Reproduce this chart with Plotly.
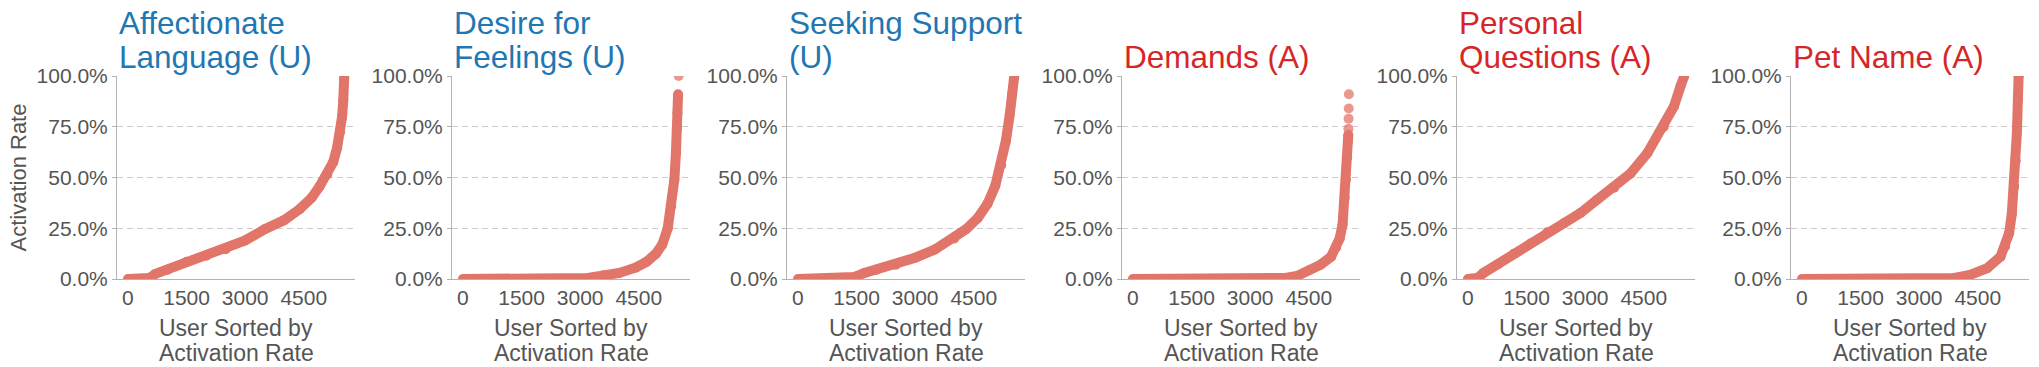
import plotly.graph_objects as go

# panel titles and their colours (U = user, A = assistant)
titles = ["Affectionate<br>Language (U)", "Desire for<br>Feelings (U)", "Seeking Support<br>(U)",
          "Demands (A)", "Personal<br>Questions (A)", "Pet Name (A)"]
title_colors = ["#1f77b4", "#1f77b4", "#1f77b4", "#d62728", "#d62728", "#d62728"]

# users sorted by activation rate (rank, rate)
users_affection = [0, 400, 550, 700, 1000, 1500, 2000, 2500, 3000, 3500, 4000, 4400, 4700, 4900,
                   5100, 5250, 5350, 5430, 5480, 5510, 5535]
rate_affection = [0, 0, 0.005, 0.025, 0.045, 0.085, 0.115, 0.147, 0.19, 0.245, 0.29, 0.345, 0.40, 0.455,
                  0.515, 0.575, 0.645, 0.725, 0.80, 0.88, 1.0]

users_desire = [0, 2900, 3200, 3600, 4000, 4430, 4700, 4940, 5100, 5240, 5330, 5410, 5450, 5475,
                5490, 5505]
rate_desire = [0, 0, 0.005, 0.018, 0.03, 0.057, 0.085, 0.125, 0.17, 0.25, 0.36, 0.49, 0.62, 0.74,
               0.82, 0.91]
users_desire_top = [5520]
rate_desire_top = [1.0]

users_support = [0, 1200, 1450, 1700, 2000, 2500, 3000, 3500, 4000, 4300, 4600, 4850, 5050, 5200,
                 5320, 5420, 5480, 5535]
rate_support = [0, 0, 0.01, 0.03, 0.045, 0.07, 0.105, 0.145, 0.20, 0.245, 0.30, 0.37, 0.46, 0.56,
                0.68, 0.81, 0.91, 1.0]

users_demands = [0, 3500, 3900, 4200, 4520, 4800, 5070, 5200, 5290, 5365, 5420, 5450, 5480, 5500,
                 5510]
rate_demands = [0, 0, 0.005, 0.015, 0.044, 0.07, 0.11, 0.155, 0.20, 0.27, 0.40, 0.49, 0.60, 0.68,
                0.71]
users_demands_top = [5514, 5518, 5522, 5526]
rate_demands_top = [0.74, 0.79, 0.84, 0.91]

users_questions = [0, 150, 250, 400, 750, 1180, 1600, 2030, 2460, 2880, 3300, 3740, 4160, 4590,
                   5010, 5270, 5440, 5535]
rate_questions = [0, 0, 0.005, 0.03, 0.07, 0.125, 0.175, 0.23, 0.275, 0.325, 0.39, 0.45, 0.52, 0.62,
                  0.75, 0.85, 0.95, 1.0]

users_petname = [0, 3500, 3900, 4300, 4740, 5080, 5200, 5300, 5370, 5430, 5470, 5500, 5525, 5545]
rate_petname = [0, 0, 0.005, 0.02, 0.053, 0.11, 0.16, 0.225, 0.32, 0.455, 0.58, 0.72, 0.88, 1.0]

curves = [(users_affection, rate_affection), (users_desire, rate_desire),
          (users_support, rate_support), (users_demands, rate_demands),
          (users_questions, rate_questions), (users_petname, rate_petname)]
tops = {1: (users_desire_top, rate_desire_top), 3: (users_demands_top, rate_demands_top)}

x_ticks = [0, 1500, 3000, 4500]
y_ticks = [0, 0.25, 0.5, 0.75, 1.0]

W, H = 2039, 367
FONT = "Liberation Sans, Arial, Helvetica, sans-serif"
GREY = "#555555"
DOT = "rgb(226,117,106)"

lefts = [117, 452, 787, 1122, 1457, 1791]
pw = 238
plot_top, plot_bot = 76, 279


def py(px):
    return 1 - px / H


fig = go.Figure()
annotations = []
for i, (xs, ys) in enumerate(curves):
    n = i + 1
    fig.add_trace(go.Scatter(x=xs, y=ys, mode="lines+markers", xaxis=f"x{n}", yaxis=f"y{n}",
                             line=dict(color=DOT, width=10),
                             marker=dict(color=DOT, size=10), showlegend=False))
    if i in tops:
        tx, ty = tops[i]
        fig.add_trace(go.Scatter(x=tx, y=ty, mode="markers", xaxis=f"x{n}", yaxis=f"y{n}",
                                 marker=dict(color=DOT, size=10, opacity=0.75), showlegend=False))

    dom_x = [lefts[i] / W, (lefts[i] + pw) / W]
    fig.update_layout({
        f"xaxis{n}": dict(domain=dom_x, anchor=f"y{n}", range=[-280, 5810], tickvals=x_ticks,
                          showgrid=False, zeroline=False, showline=True, linecolor="#b3b3b3",
                          linewidth=1, ticks="", ticklen=0,
                          tickfont=dict(size=21, color=GREY, family=FONT)),
        f"yaxis{n}": dict(domain=[py(plot_bot), py(plot_top)], anchor=f"x{n}", range=[0, 1],
                          tickvals=y_ticks, tickformat=".1%", showgrid=True, gridcolor="#cccccc",
                          griddash="6px,4px", gridwidth=1, zeroline=False, showline=True,
                          linecolor="#b3b3b3", linewidth=1, ticks="outside", ticklen=4,
                          tickcolor="#b3b3b3", tickfont=dict(size=21, color=GREY, family=FONT)),
    })

    # title lines, left aligned with the axis
    lines = titles[i].split("<br>")
    base = [67] if len(lines) == 1 else [33, 67]
    for txt, b in zip(lines, base):
        annotations.append(dict(text=txt, xref="paper", yref="paper", x=lefts[i] / W,
                                y=py(b + 10), xanchor="left", yanchor="bottom", showarrow=False,
                                font=dict(size=31.5, color=title_colors[i], family=FONT)))

    # x axis title, two lines
    cx = (lefts[i] + pw / 2) / W
    for txt, b in zip(["User Sorted by", "Activation Rate"], [329, 354]):
        annotations.append(dict(text=txt, xref="paper", yref="paper", x=cx, y=py(b + 14),
                                xanchor="center", yanchor="bottom", showarrow=False,
                                font=dict(size=23, color=GREY, family=FONT)))

annotations.append(dict(text="Activation Rate", xref="paper", yref="paper", x=18 / W,
                        y=py((plot_top + plot_bot) / 2), xanchor="center", yanchor="middle",
                        textangle=-90, showarrow=False, font=dict(size=22, color=GREY, family=FONT)))

fig.update_layout(width=W, height=H, margin=dict(l=0, r=0, t=0, b=0), template="none",
                  plot_bgcolor="white", paper_bgcolor="white", annotations=annotations,
                  font=dict(family=FONT))

# drop the browser's default 8px body margin so the figure sits at the page corner
fig.write_html("out.html", config={"displayModeBar": False},
               post_script="document.body.style.margin='0';")
